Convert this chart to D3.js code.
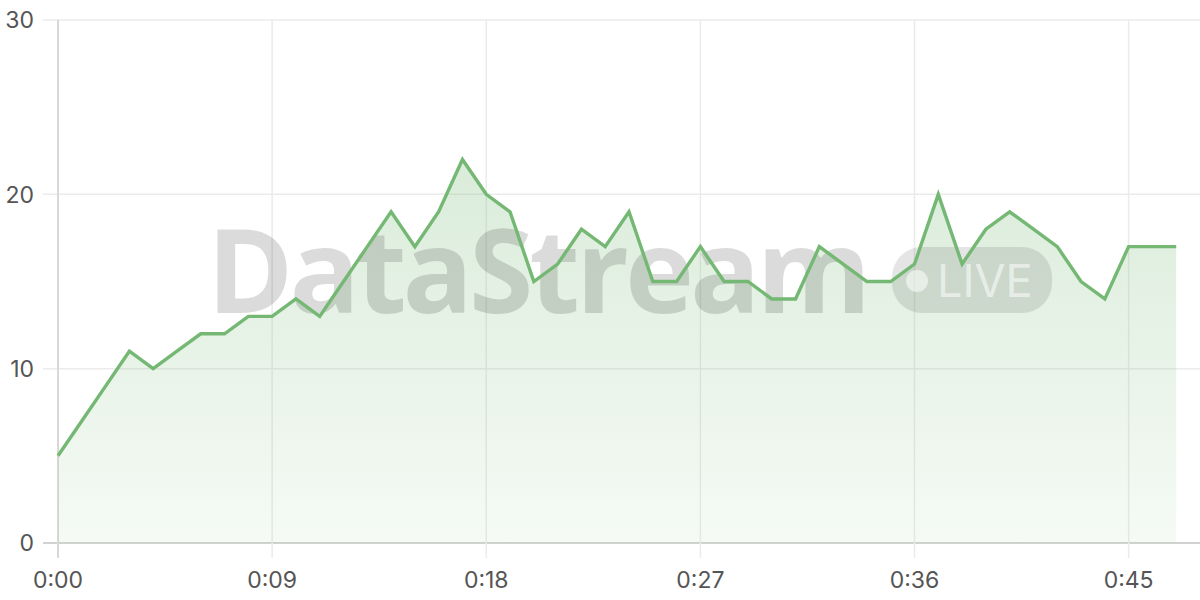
<!DOCTYPE html>
<html><head><meta charset="utf-8">
<script src="https://cdn.jsdelivr.net/npm/d3@7"></script>
<style>html,body{margin:0;padding:0;background:#fff;}svg{display:block;}</style>
</head><body>
<svg id="chart" width="1200" height="600"></svg>
<script>
const seconds = d3.range(0, 48);
const values = [5,7,9,11,10,11,12,12,13,13,14,13,15,17,19,17,19,22,20,19,15,16,18,17,19,15,15,17,15,15,14,14,17,16,15,15,16,20,16,18,19,18,17,15,14,17,17,17];
const xTicks = [0,9,18,27,36,45];
const yTicks = [0,10,20,30];
const watermarkText = "DataStream";
const badgeText = "LIVE";

const data = seconds.map((s,i)=>({t:s, v:values[i]}));
const svg = d3.select("#chart");
const x = d3.scaleLinear().domain([0,48]).range([58,1200]);
const y = d3.scaleLinear().domain([0,30]).range([543,20]);
const fmt = s => Math.floor(s/60) + ":" + String(s%60).padStart(2,"0");

const defs = svg.append("defs");
const grad = defs.append("linearGradient").attr("id","ag")
  .attr("gradientUnits","userSpaceOnUse").attr("x1",0).attr("y1",y(22)).attr("x2",0).attr("y2",y(0));
grad.append("stop").attr("offset","0").attr("stop-color","#76b876").attr("stop-opacity",0.27);
grad.append("stop").attr("offset","1").attr("stop-color","#76b876").attr("stop-opacity",0.07);

// grid
svg.append("g").selectAll("line").data(yTicks).join("line")
  .attr("x1",43).attr("x2",1200).attr("y1",d=>y(d)).attr("y2",d=>y(d))
  .attr("stroke",d=>d===0?"#d2d2d2":"#ebebeb").attr("stroke-width",d=>d===0?2:1.5);
svg.append("g").selectAll("line").data(xTicks).join("line")
  .attr("x1",d=>x(d)).attr("x2",d=>x(d)).attr("y1",20).attr("y2",558)
  .attr("stroke",d=>d===0?"#d8d8d8":"#ebebeb").attr("stroke-width",d=>d===0?2:1.5);

// area
svg.append("path").datum(data)
  .attr("d", d3.area().x(d=>x(d.t)).y0(y(0)).y1(d=>y(d.v)))
  .attr("fill","url(#ag)");

// watermark
const wm = svg.append("g").attr("pointer-events","none");
wm.append("text").text(watermarkText)
  .attr("x",207).attr("y",313)
  .attr("font-family","Open Sans, sans-serif").attr("font-weight",700).attr("font-size",116)
  .attr("letter-spacing",-4)
  .attr("textLength",660).attr("lengthAdjust","spacingAndGlyphs")
  .attr("fill","#000").attr("fill-opacity",0.14);
wm.append("rect").attr("x",892).attr("y",247).attr("width",160).attr("height",66).attr("rx",30)
  .attr("fill","#000").attr("fill-opacity",0.1);
wm.append("circle").attr("cx",917).attr("cy",281).attr("r",11).attr("fill","#fff").attr("fill-opacity",0.55);
wm.append("text").text(badgeText).attr("x",937).attr("y",297)
  .attr("font-family","Inter, sans-serif").attr("font-weight",400).attr("font-size",45)
  .attr("fill","#fff").attr("fill-opacity",0.55);

// line
svg.append("path").datum(data)
  .attr("d", d3.line().x(d=>x(d.t)).y(d=>y(d.v)))
  .attr("fill","none").attr("stroke","#74b874").attr("stroke-width",3.4).attr("stroke-linejoin","miter");

// labels
svg.append("g").selectAll("text").data(yTicks).join("text")
  .attr("x",34).attr("y",d=>y(d)).attr("dy","0.36em").attr("text-anchor","end")
  .attr("font-family","Inter, sans-serif").attr("font-size",23).attr("fill","#555")
  .text(d=>d);
svg.append("g").selectAll("text").data(xTicks).join("text")
  .attr("x",d=>x(d)).attr("y",588).attr("text-anchor","middle")
  .attr("font-family","Inter, sans-serif").attr("font-size",23).attr("fill","#555")
  .text(d=>fmt(d));
</script>
</body></html>
